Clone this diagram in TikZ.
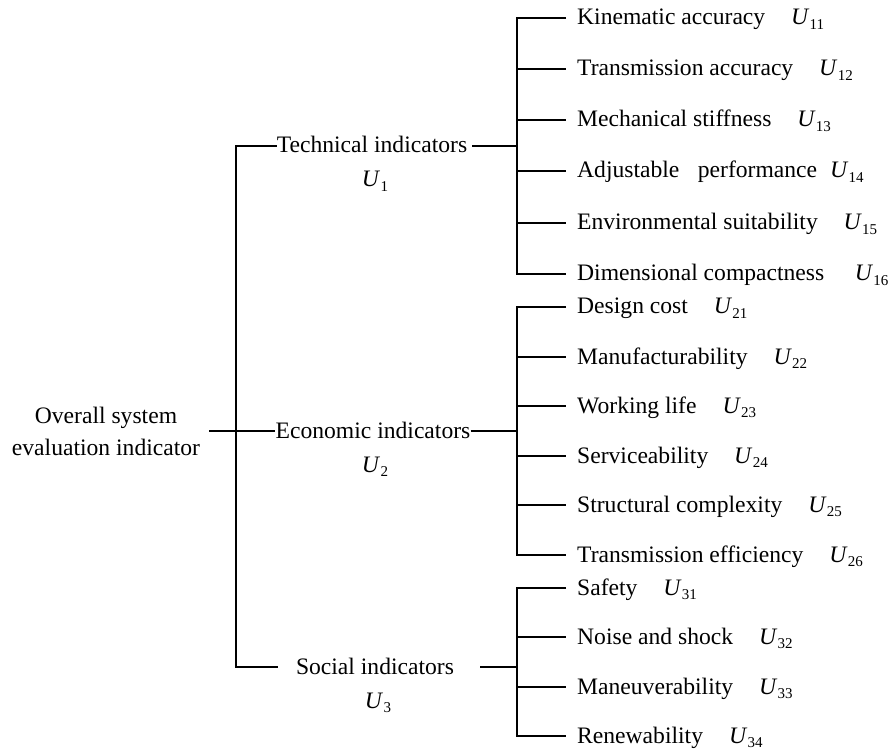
\documentclass[tikz,border=0pt]{standalone}
\usepackage{fontspec}
\setmainfont{Liberation Serif}
\newcommand{\Usb}[1]{\textit{U}\kern0.2pt\raisebox{-0.2em}{\fontsize{15}{15}\selectfont #1}}
\begin{document}
\begin{tikzpicture}[x=1pt,y=-1pt,
  txt/.style={font=\fontsize{23.6}{32}\selectfont, inner sep=0pt, text height=20pt, text depth=6pt},
  leaf/.style={txt, anchor=west, inner xsep=11pt},
  ulab/.style={font=\fontsize{23.6}{32}\selectfont, inner sep=0pt, anchor=base},
  conn/.style={line width=1.8pt}]
\useasboundingbox (0,0) rectangle (889,751);

% root
\node[font=\fontsize{23.6}{32}\selectfont, align=center, inner xsep=9pt, inner ysep=0pt] (root) at (106,431) {Overall system\\evaluation indicator};

% middle level
\node[txt] (tech) at (372,146) {Technical indicators};
\node[txt] (econ) at (373,431) {Economic indicators};
\node[txt] (soc)  at (375,667) {Social indicators};
\node[ulab] (u1) at (375,187) {\Usb{1}};
\node[ulab] (u2) at (375,472) {\Usb{2}};
\node[ulab] (u3) at (378,708) {\Usb{3}};

\coordinate (ta) at (236,146);
\coordinate (tc) at (236,667);
\coordinate (g1) at (517,146);
\coordinate (g2) at (517,431);
\coordinate (g3) at (517,667);

% leaves group 1
\node[leaf] (l11) at (566,18)  {Kinematic accuracy\hspace{1.1em}\Usb{11}};
\node[leaf] (l12) at (566,69)  {Transmission accuracy\hspace{1.1em}\Usb{12}};
\node[leaf] (l13) at (566,120) {Mechanical stiffness\hspace{1.1em}\Usb{13}};
\node[leaf] (l14) at (566,171) {Adjustable\hspace{0.78em}performance\hspace{0.55em}\Usb{14}};
\node[leaf] (l15) at (566,223) {Environmental suitability\hspace{1.1em}\Usb{15}};
\node[leaf] (l16) at (566,274) {Dimensional compactness\hspace{1.3em}\Usb{16}};

% leaves group 2
\node[leaf] (l21) at (566,307) {Design cost\hspace{1.1em}\Usb{21}};
\node[leaf] (l22) at (566,357) {Manufacturability\hspace{1.1em}\Usb{22}};
\node[leaf] (l23) at (566,406) {Working life\hspace{1.1em}\Usb{23}};
\node[leaf] (l24) at (566,456) {Serviceability\hspace{1.1em}\Usb{24}};
\node[leaf] (l25) at (566,505) {Structural complexity\hspace{1.1em}\Usb{25}};
\node[leaf] (l26) at (566,555) {Transmission efficiency\hspace{1.1em}\Usb{26}};

% leaves group 3
\node[leaf] (l31) at (566,588) {Safety\hspace{1.1em}\Usb{31}};
\node[leaf] (l32) at (566,637) {Noise and shock\hspace{1.1em}\Usb{32}};
\node[leaf] (l33) at (566,687) {Maneuverability\hspace{1.1em}\Usb{33}};
\node[leaf] (l34) at (566,736) {Renewability\hspace{1.1em}\Usb{34}};

% trunk and first level
\draw[conn, shorten >=18pt] (tech.west) -- (ta) -- (tc) -- (soc.west);
\draw[conn] (root.east) -- (econ.west);
\draw[conn, shorten <=5pt] (tech.east) -- (g1);
\draw[conn] (econ.east) -- (g2);
\draw[conn, shorten <=26pt] (soc.east) -- (g3);

% brackets
\draw[conn] (l11.west) -- (g1 |- l11.west) -- (g1 |- l16.west) -- (l16.west);
\foreach \n in {12,13,14,15} \draw[conn] (g1 |- l\n.west) -- (l\n.west);
\draw[conn] (l21.west) -- (g2 |- l21.west) -- (g2 |- l26.west) -- (l26.west);
\foreach \n in {22,23,24,25} \draw[conn] (g2 |- l\n.west) -- (l\n.west);
\draw[conn] (l31.west) -- (g3 |- l31.west) -- (g3 |- l34.west) -- (l34.west);
\foreach \n in {32,33} \draw[conn] (g3 |- l\n.west) -- (l\n.west);
\end{tikzpicture}
\end{document}
